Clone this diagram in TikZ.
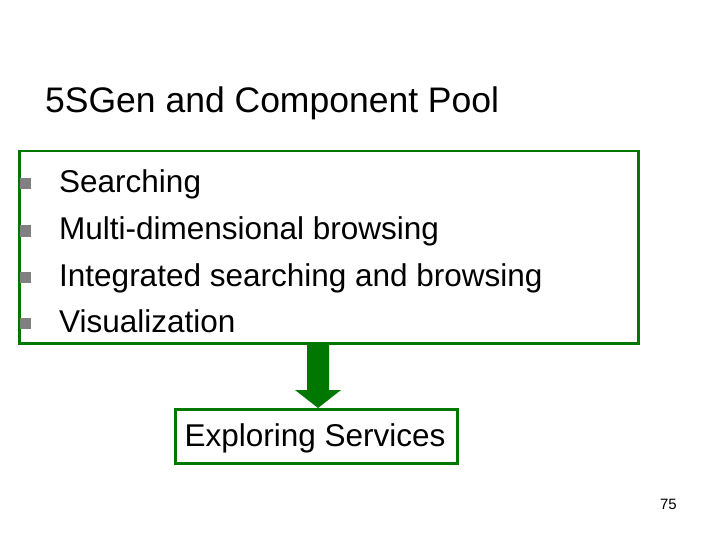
\documentclass[tikz,border=0pt]{standalone}
\usepackage{fontspec}
\setmainfont{Liberation Sans}
\definecolor{gr}{RGB}{0,120,0}
\definecolor{bul}{RGB}{128,128,128}
\begin{document}
\begin{tikzpicture}[x=1pt,y=-1pt,
  box/.style={draw=gr,line width=2.5pt,inner sep=0pt},
  txt/.style={anchor=base west,inner sep=0pt,font=\fontsize{31.5}{34}\selectfont},
  sq/.style={fill=bul,minimum size=11pt,inner sep=0pt}]
\useasboundingbox (0,0) rectangle (720,540);
\node[anchor=base west,inner sep=0pt,font=\fontsize{35.5}{40}\selectfont] (title) at (45,113) {5SGen and Component Pool};
\node[box,minimum width=619pt,minimum height=192pt,anchor=north west] (pool) at (18,150) {};
\foreach \t/\y/\n in {Searching/193/a,Multi-dimensional browsing/240/b,Integrated searching and browsing/286/c,Visualization/332/d}{
  \node[sq] (s\n) at (25,{\y-9}) {};
  \node[txt] (t\n) at (59,\y) {\t};
}
\node[box,minimum width=282pt,minimum height=54pt,anchor=north west] (exp) at (174,408) {};
\node[anchor=base,inner sep=0pt,font=\fontsize{31.5}{34}\selectfont] (expt) at (315,446) {Exploring Services};
\coordinate (tip) at (318,408);
\fill[gr] (307,343) -- (329,343) -- (329,390) -- (341,390) -- (tip) -- (295,390) -- (307,390) -- cycle;
\node[anchor=base east,inner sep=0pt,font=\fontsize{15}{17}\selectfont] (pg) at (677,509) {75};
\end{tikzpicture}
\end{document}
